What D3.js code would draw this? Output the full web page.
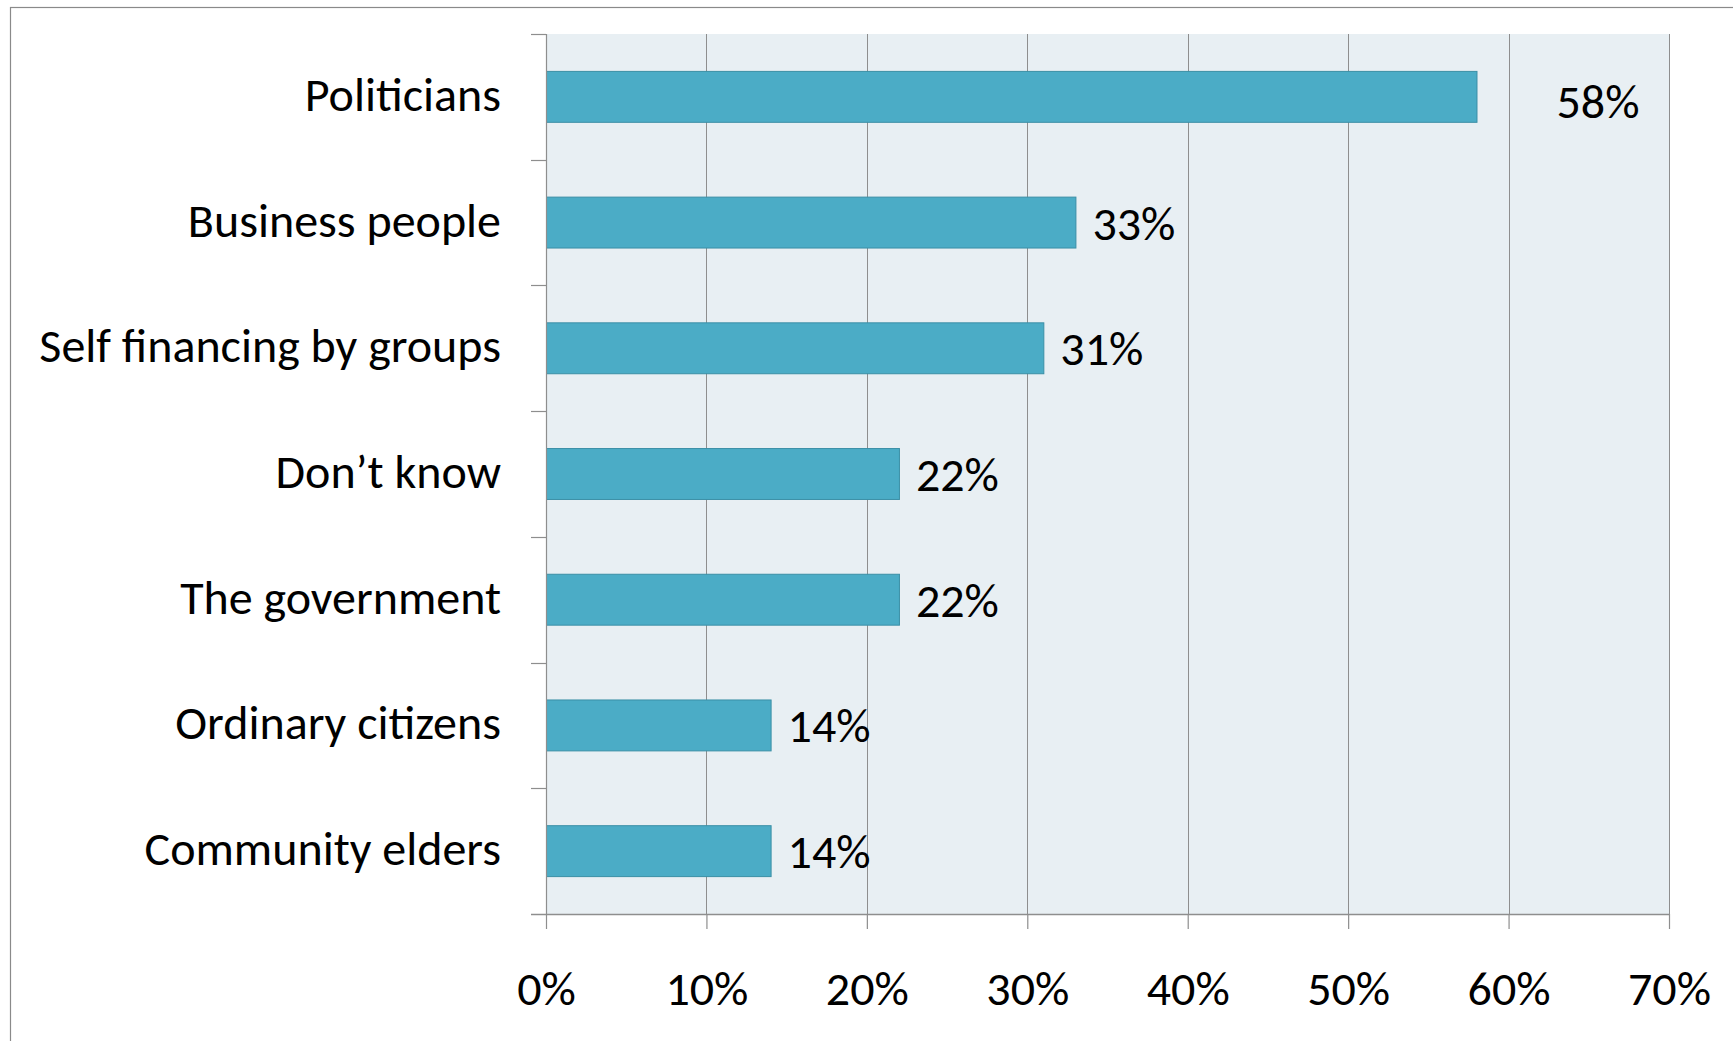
<!DOCTYPE html>
<html>
<head>
<meta charset="utf-8">
<script src="https://cdn.jsdelivr.net/npm/d3@7/dist/d3.min.js"></script>
<style>
  html, body { margin: 0; padding: 0; background: #ffffff; }
  svg { display: block; }
  text { font-family: Carlito, Calibri, Lato, "Open Sans", sans-serif; fill: #000; font-weight: 300; }
</style>
</head>
<body>
<svg id="chart" width="1733" height="1041"></svg>
<script>
const categories = ["Politicians", "Business people", "Self financing by groups", "Don\u2019t know", "The government", "Ordinary citizens", "Community elders"];
const values = [58, 33, 31, 22, 22, 14, 14];
const xTicks = [0, 10, 20, 30, 40, 50, 60, 70];
const xTickLabels = ["0%", "10%", "20%", "30%", "40%", "50%", "60%", "70%"];

const W = 1733, H = 1041;
const plot = { left: 546, right: 1669, top: 34, bottom: 914 };
const fontSize = 48;

const svg = d3.select("#chart");

// outer frame
svg.append("rect")
  .attr("x", 10.5).attr("y", 7.5)
  .attr("width", W + 20).attr("height", H + 20)
  .attr("fill", "#fff").attr("stroke", "#8a8a8a").attr("stroke-width", 1.2);

const x = d3.scaleLinear().domain([0, 70]).range([plot.left, plot.right]);
const y = d3.scaleBand().domain(categories).range([plot.top, plot.bottom])
  .paddingInner(0.595).paddingOuter(0.2975);

// plot background
svg.append("rect")
  .attr("x", plot.left).attr("y", plot.top)
  .attr("width", plot.right - plot.left).attr("height", plot.bottom - plot.top)
  .attr("fill", "#e8eff3");

// vertical gridlines
svg.append("g").selectAll("line").data(xTicks.slice(1)).join("line")
  .attr("x1", d => Math.round(x(d)) + 0.5).attr("x2", d => Math.round(x(d)) + 0.5)
  .attr("y1", plot.top).attr("y2", plot.bottom)
  .attr("stroke", "#8e8e8e").attr("stroke-width", 1);

// bars
svg.append("g").selectAll("rect").data(categories).join("rect")
  .attr("x", plot.left + 0.5)
  .attr("y", d => y(d))
  .attr("width", (d, i) => x(values[i]) - plot.left)
  .attr("height", y.bandwidth())
  .attr("fill", "#4bacc6")
  .attr("stroke", "#3b8fa6").attr("stroke-width", 1);

// x axis (bottom)
const xAxis = d3.axisBottom(x).tickValues(xTicks)
  .tickFormat((d, i) => xTickLabels[i]).tickSize(15).tickSizeOuter(0);
const gx = svg.append("g").attr("transform", `translate(0,${plot.bottom})`).call(xAxis);
gx.select(".domain").attr("stroke", "#8e8e8e").attr("stroke-width", 1.5)
  .attr("d", `M${plot.left - 15},0.5H${plot.right}`);
gx.selectAll(".tick line").attr("stroke", "#8e8e8e").attr("stroke-width", 1.2);
gx.selectAll(".tick text").attr("font-size", fontSize).attr("fill", "#000")
  .attr("font-family", "Carlito, Calibri, Lato, sans-serif")
  .attr("y", 91).attr("dy", 0);

// y axis (left) with ticks at band boundaries
const yAxis = d3.axisLeft(y).tickSize(0).tickPadding(45);
const gy = svg.append("g").attr("transform", `translate(${plot.left},0)`).call(yAxis);
gy.select(".domain").attr("stroke", "#8e8e8e").attr("stroke-width", 1.2)
  .attr("d", `M0.5,${plot.top}V${plot.bottom}`);
gy.selectAll(".tick text").attr("font-size", fontSize).attr("fill", "#000")
  .attr("font-family", "Carlito, Calibri, Lato, sans-serif")
  .attr("dy", 14);
const step = y.step();
const boundaries = d3.range(categories.length).map(i => plot.top + i * step);
gy.append("g").selectAll("line").data(boundaries).join("line")
  .attr("x1", -15).attr("x2", 0)
  .attr("y1", d => Math.round(d) + 0.5).attr("y2", d => Math.round(d) + 0.5)
  .attr("stroke", "#8e8e8e").attr("stroke-width", 1.2);

// value labels
svg.append("g").selectAll("text").data(categories).join("text")
  .attr("x", (d, i) => x(values[i]) + (i === 0 ? 80 : 17))
  .attr("y", d => y(d) + y.bandwidth() / 2)
  .attr("dy", (d, i) => i === 0 ? 21 : 17)
  .attr("font-size", fontSize)
  .text((d, i) => values[i] + "%");
</script>
</body>
</html>
